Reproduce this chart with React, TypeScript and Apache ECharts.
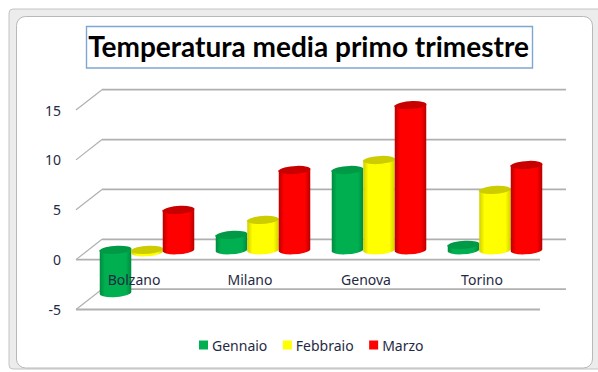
import React, { useEffect, useRef } from "react";
import * as echarts from "echarts";

const categories = ["Bolzano", "Milano", "Genova", "Torino"];
const gennaio = [-4.3, 1.5, 8, 0.5];
const febbraio = [-0.2, 3, 9, 6];
const marzo = [4, 8, 14.5, 8.5];
const ticks = [-5, 0, 5, 10, 15];

const DEPTH_X = 26;
const DEPTH_Y = 20.3;
const BAR_W = 31.5;
const RX = BAR_W / 2;
const RY = 4.2;
const TILT = 1.1;
const FONT = "'Noto Sans', sans-serif";

function barItem(offset: number, base: string, edge: string, top: string) {
  return (params: any, api: any) => {
    const cat = api.value(0);
    const v = api.value(1);
    const cx = api.coord([cat, v])[0] + DEPTH_X / 2 + offset;
    const zeroY = api.coord([cat, 0])[1] - DEPTH_Y / 2;
    const valY = api.coord([cat, v])[1] - DEPTH_Y / 2;
    const yt = Math.min(zeroY, valY);
    const yb = Math.max(zeroY, valY);
    const x0 = cx - RX;
    const x1 = cx + RX;
    const arc = `A ${RX} ${RY} -4 0`;
    const body = `M ${x0} ${yt + TILT} L ${x0} ${yb + TILT} ${arc} 0 ${x1} ${yb - TILT} L ${x1} ${yt - TILT} Z`;
    const cap = `M ${x0} ${yt + TILT} ${arc} 1 ${x1} ${yt - TILT} ${arc} 1 ${x0} ${yt + TILT} Z`;
    return {
      type: "group",
      children: [
        {
          type: "path",
          shape: { pathData: body },
          style: {
            fill: new echarts.graphic.LinearGradient(0, 0, 1, 0, [
              { offset: 0, color: edge },
              { offset: 0.17, color: base },
              { offset: 0.83, color: base },
              { offset: 1, color: edge },
            ]),
          },
        },
        { type: "path", shape: { pathData: cap }, style: { fill: top } },
      ],
    };
  };
}

function frameItem(params: any, api: any) {
  const v = api.value(0);
  const y = api.coord([0, v])[1];
  const left = params.coordSys.x;
  const right = left + params.coordSys.width;
  const line = "#b0b0b0";
  const children: any[] = [
    {
      type: "line",
      shape: { x1: left, y1: y, x2: left + DEPTH_X, y2: y - DEPTH_Y },
      style: { stroke: line, lineWidth: 1.2 },
    },
    {
      type: "line",
      shape: { x1: left + DEPTH_X, y1: y - DEPTH_Y, x2: right + DEPTH_X, y2: y - DEPTH_Y },
      style: { stroke: line, lineWidth: 1.8 },
    },
  ];
  if (v <= 0) {
    children.push({
      type: "line",
      shape: { x1: left, y1: y, x2: right, y2: y },
      style: { stroke: line, lineWidth: 1.8 },
    });
  }
  return { type: "group", children };
}

function barSeries(name: string, data: number[], offset: number, base: string, edge: string, top: string) {
  return {
    name,
    type: "custom",
    z: 3,
    clip: false,
    itemStyle: { color: base },
    renderItem: barItem(offset, base, edge, top),
    encode: { x: 0, y: 1 },
    data: data.map((v, i) => [i, v]),
  };
}

export default function App() {
  const ref = useRef<HTMLDivElement>(null);
  useEffect(() => {
    document.body.style.margin = "0";
    const chart = echarts.init(ref.current!, null, { renderer: "svg" });
    chart.setOption({
      animation: false,
      backgroundColor: "#ffffff",
      title: {
        text: "Temperatura media primo trimestre",
        left: 308.5,
        top: 28,
        textAlign: "center",
        padding: 0,
        textStyle: { fontFamily: "Lato, sans-serif", fontWeight: "bold", fontSize: 28, color: "#000000", lineHeight: 36 },
      },
      legend: {
        left: 199,
        top: 338,
        icon: "rect",
        itemWidth: 9,
        itemHeight: 9,
        itemGap: 15.5,
        padding: 0,
        data: ["Gennaio", "Febbraio", "Marzo"],
        textStyle: { fontFamily: FONT, fontSize: 14, color: "#1f2a44", padding: [0, 0, 0, -1] },
      },
      grid: { left: 76, right: 58, top: 110, bottom: 62.5 },
      xAxis: {
        type: "category",
        data: categories,
        z: 10,
        position: "bottom",
        offset: -50,
        axisLine: { show: false, onZero: false },
        axisTick: { show: false },
        axisLabel: { fontFamily: FONT, fontSize: 14, color: "#1f2a44", margin: 13 },
      },
      yAxis: {
        type: "value",
        min: -5,
        max: 15,
        interval: 5,
        axisLine: { show: false },
        axisTick: { show: false },
        splitLine: { show: false },
        axisLabel: { fontFamily: FONT, fontSize: 14, color: "#1f2a44", margin: 15 },
      },
      graphic: [
        { type: "rect", z: -10, shape: { x: 9, y: 9, width: 600, height: 360, r: 4 }, style: { fill: "#ececec", stroke: "#c4c4c4", lineWidth: 1 } },
        { type: "rect", z: -9, shape: { x: 16.5, y: 16.5, width: 576, height: 351.5, r: 9 }, style: { fill: "#ffffff", stroke: "#b8b8b8", lineWidth: 1 } },
        { type: "rect", z: -8, shape: { x: 86.5, y: 26.5, width: 446, height: 41.5 }, style: { fill: "#ffffff", stroke: "#7ea6d4", lineWidth: 1.4 } },
      ],
      series: [
        {
          name: "griglia",
          type: "custom",
          z: 1,
          clip: false,
          renderItem: frameItem,
          encode: { y: 0 },
          data: ticks.map((v) => [v]),
          silent: true,
        },
        barSeries("Gennaio", gennaio, -BAR_W, "#00b050", "#008a3f", "#009a47"),
        barSeries("Febbraio", febbraio, 0, "#ffff00", "#d0d000", "#cccc00"),
        barSeries("Marzo", marzo, BAR_W, "#ff0000", "#b80000", "#c80000"),
      ],
    });
    return () => chart.dispose();
  }, []);
  return <div ref={ref} style={{ width: 598, height: 372 }} />;
}
